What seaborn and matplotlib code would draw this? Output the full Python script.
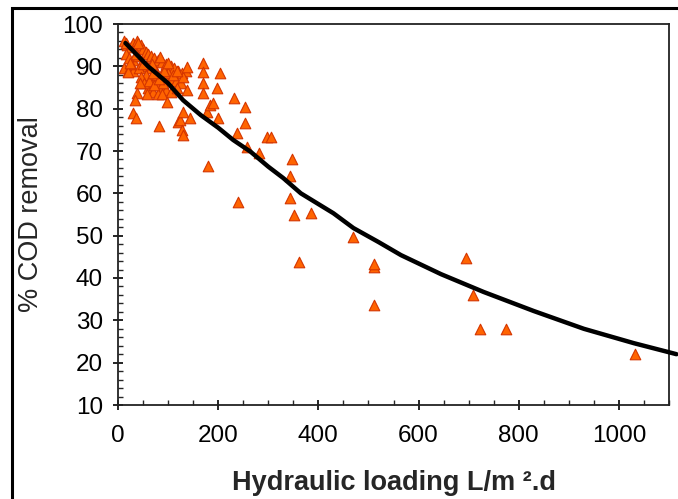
import matplotlib
matplotlib.use("Agg")
import matplotlib.pyplot as plt
import matplotlib.patches as patches
from matplotlib.ticker import MultipleLocator
import pandas as pd
import seaborn as sns

# Measured points: hydraulic loading (L/m2.d) vs % COD removal
loading = [12, 18, 25, 30, 38, 45, 50, 55, 60, 65, 72, 80, 88, 95, 105, 112, 120, 128, 135,
           15, 22, 30, 40, 48, 58, 66, 75, 85, 95, 105, 115, 125,
           12, 20, 30, 42, 55, 65, 75, 85, 95, 105, 118, 130,
           60, 70, 80, 90, 100, 78, 68, 50, 35, 25,
           45, 52, 62, 72, 82, 92, 110, 58, 70, 88,
           16, 40, 20, 24, 44, 38, 34, 30, 36, 82, 84, 98, 100, 118, 120, 124, 128,
           130, 130, 138, 138, 144, 170, 170, 170, 170, 178, 184, 190, 198, 200, 204,
           232, 238, 254, 254, 258, 282, 298, 306, 180,
           348, 344, 344, 240, 352, 386, 470, 362, 511, 511, 511,
           695, 709, 723, 775, 1033]
cod_removal = [96, 95, 94.5, 95.5, 96, 95, 94, 93.5, 93, 92.5, 92, 91.5, 91, 90.5, 90, 89.5, 89, 88.5, 89,
               93, 92, 91.5, 92.5, 91, 90, 89.5, 89, 88, 87.5, 87, 86.5, 86,
               89.5, 89, 89, 89.5, 88, 87, 86, 85, 84.5, 84, 85, 87.5,
               85, 84, 83.5, 86, 88.5, 88, 90.5, 90.5, 93, 90.5,
               87.5, 86, 86.5, 85.5, 87, 89, 88, 83.5, 88.5, 83.5,
               95.5, 95.5, 88.7, 90.8, 86, 83.7, 82, 79, 77.8, 75.8, 92.2, 81.5, 90.8, 89, 76.8, 77.3, 75,
               79.2, 73.8, 89.8, 84.4, 77.8, 90.8, 88.7, 86, 83.6, 79.2, 80.9, 81.3, 85, 77.8, 88.4,
               82.5, 74.2, 80.3, 76.5, 71, 69.5, 73.3, 73.3, 66.5,
               68, 64, 59, 58, 55, 55.3, 49.7, 43.8, 42.5, 43.2, 33.6,
               44.7, 36, 28, 28, 22]

# Fitted trend line
fit_loading = [15, 60, 100, 130, 165, 200, 230, 265, 300, 330, 365, 430, 470, 520, 565,
               645, 730, 830, 930, 1030, 1115]
fit_removal = [95.5, 90, 86, 82, 78.5, 75.5, 72.6, 69.8, 66.3, 63.6, 60, 55.3, 51.8, 48.5, 45.4,
               40.9, 36.7, 32.2, 28, 24.6, 22]

pts = pd.DataFrame({"loading": loading, "cod": cod_removal})
fit = pd.DataFrame({"loading": fit_loading, "cod": fit_removal})

sns.set_theme(style="ticks")
plt.rcParams["font.family"] = ["Liberation Sans", "DejaVu Sans"]

fig = plt.figure(figsize=(6.78, 4.99), dpi=100)
ax = fig.add_axes([118 / 678, 1 - 405 / 499, (669 - 118) / 678, (405 - 24) / 499])

sns.scatterplot(data=pts, x="loading", y="cod", marker="^", s=58, color="#FF6400",
                edgecolor="#D43500", linewidth=0.8, ax=ax, zorder=2)
sns.lineplot(data=fit, x="loading", y="cod", sort=False, estimator=None, color="black",
             linewidth=3.2, ax=ax, zorder=3)
for line in ax.get_lines():
    line.set_clip_on(False)

ax.set_xlim(0, 1100)
ax.set_ylim(10, 100)
ax.xaxis.set_major_locator(MultipleLocator(200))
ax.xaxis.set_minor_locator(MultipleLocator(50))
ax.yaxis.set_major_locator(MultipleLocator(10))
ax.yaxis.set_minor_locator(MultipleLocator(2))
ax.tick_params(which="major", direction="inout", length=7.5, width=1.2, labelsize=17.5,
               colors="black")
ax.tick_params(axis="x", which="major", pad=11)
ax.tick_params(axis="y", which="major", pad=7)
ax.tick_params(which="minor", direction="in", length=3.5, width=1.0)

for side in ["left", "bottom", "top", "right"]:
    ax.spines[side].set_visible(True)
    ax.spines[side].set_color("#222222")
    ax.spines[side].set_linewidth(1.3)

ax.set_xlabel("Hydraulic loading L/m \u00b2.d", fontsize=19.5, fontweight="bold", labelpad=16)
ax.set_ylabel("% COD removal", fontsize=19.5, labelpad=13)

# outer frame of the figure (cut off at right and bottom)
frame = patches.Rectangle((12 / 678, -0.1), 1.2, 1 - 8 / 499 + 0.1, transform=fig.transFigure,
                          fill=False, edgecolor="black", linewidth=2.2)
fig.add_artist(frame)

fig.savefig("out.png", dpi=100)
